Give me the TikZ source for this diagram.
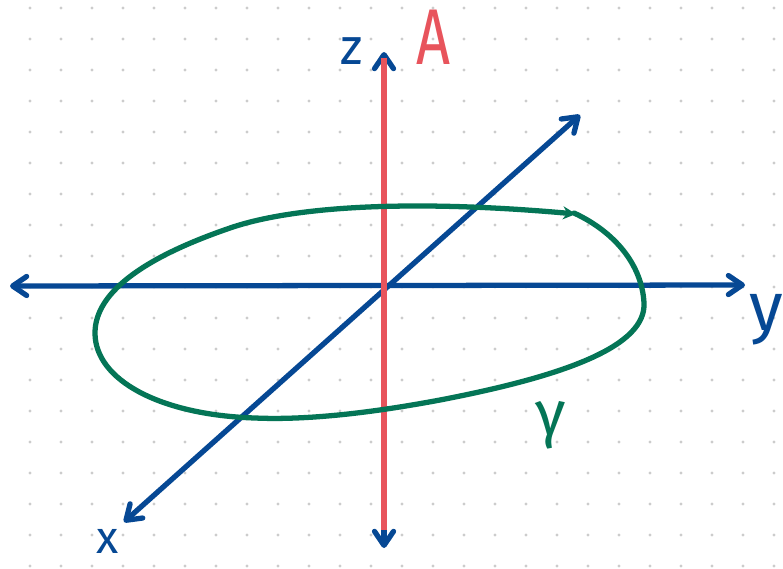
\documentclass[tikz,border=0pt]{standalone}
\usepackage{fontspec}
\newfontfamily\handfont{Fira Sans}
\usetikzlibrary{arrows.meta}
\definecolor{penblue}{RGB}{6,72,148}
\definecolor{penred}{RGB}{232,84,92}
\definecolor{pengreen}{RGB}{4,117,86}

\begin{document}
\begin{tikzpicture}[
  x=0.02cm, y=-0.02cm,
  font=\handfont,
  barb/.tip={Straight Barb[length=2.8mm, width=3.8mm, round]},
  axis/.style={draw=penblue, line width=3pt, line cap=round, barb-barb},
  rod/.style={draw=penred, line width=3.6pt},
  loop/.style={draw=pengreen, line width=3pt, line cap=round, line join=round},
  dot/.style={fill=black!20},
  lbl/.style={inner sep=0pt, text=penblue}
]
\fill[white] (0,0) rectangle (783,568);
\useasboundingbox (0,0) rectangle (783,568);
\foreach \i in {0,...,24}
  \foreach \j in {0,...,18}
    \fill[dot] (30+31*\i, 8+31*\j) circle (0.9pt);
\coordinate (yneg) at (10,286);
\coordinate (ypos) at (745,285);
\coordinate (ztop) at (384,52);
\coordinate (zbot) at (384,548);
\coordinate (xneg) at (124,522);
\coordinate (xpos) at (580,115);
\coordinate (atop) at (384,58);
\coordinate (abot) at (384,530);
\draw[axis] (yneg) -- (ypos);
\draw[axis] (zbot) -- (ztop);
\draw[axis] (xneg) -- (xpos);
\draw[rod] (abot) -- (atop);
\draw[loop, -{Stealth[length=2.6mm, width=2.6mm]}] (574,213)
  .. controls (615,232) and (642,265) .. (644,303)
  .. controls (646,345) and (570,375) .. (440,400)
  .. controls (360,415) and (300,420) .. (255,418)
  .. controls (160,415) and (95,380) .. (95,333)
  .. controls (95,290) and (150,255) .. (233,227)
  .. controls (300,205) and (420,200) .. (576,214);
\node[lbl, font=\handfont\fontsize{29}{29}\selectfont] (lblz) at (352,51) {z};
\node[lbl, font=\handfont\fontsize{26}{26}\selectfont] (lblx) at (108,541) {x};
\node[lbl, font=\handfont\fontsize{39}{39}\selectfont] (lbly) at (766,320) {y};
\node[lbl, text=penred, font=\handfont\fontsize{45}{45}\selectfont] (lblA) at (433,37) {\scalebox{0.75}[1]{A}};
\node[lbl, text=pengreen, font=\handfont\fontsize{36}{36}\selectfont] (lblg) at (551,425) {γ};
\end{tikzpicture}
\end{document}
